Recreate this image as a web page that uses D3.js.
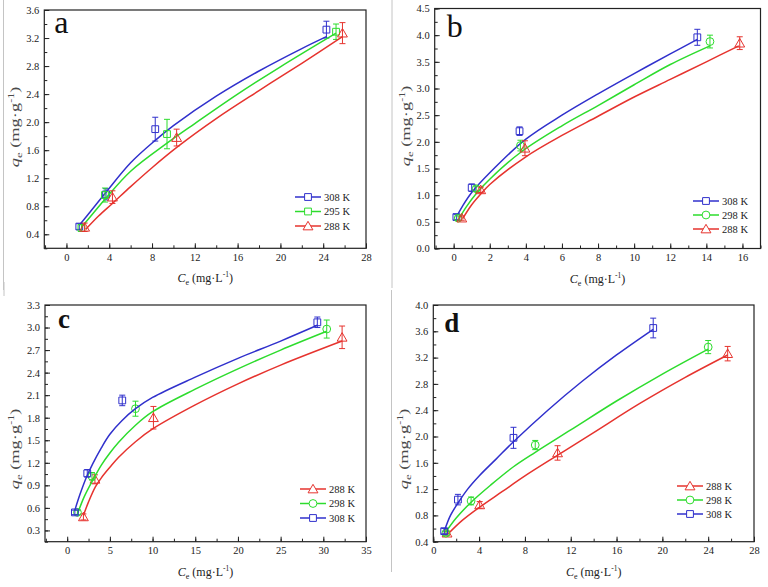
<!DOCTYPE html>
<html lang="en">
<head>
  <meta charset="UTF-8">
  <title>Adsorption isotherms</title>
  <style>
    * { margin: 0; }
    body { background: #fff; }
    svg { display: block; }
    text { font-family: "Liberation Serif", "Times New Roman", "DejaVu Serif", serif; fill: #222; }
    .tick-label { font-size: 10.5px; }
    .axis-title { font-size: 12px; }
    .legend text { font-size: 10.5px; }
  </style>
</head>
<body>
  <div id="chart"></div>
  <script src="https://cdnjs.cloudflare.com/ajax/libs/d3/7.8.5/d3.min.js"></script>
  <script>
    // ---- panel a ----
    const aXTicks = [0, 4, 8, 12, 16, 20, 24, 28];
    const aYTicks = [0.4, 0.8, 1.2, 1.6, 2.0, 2.4, 2.8, 3.2, 3.6];
    const a308Ce = [1.2, 3.7, 8.3, 24.3];
    const a308Qe = [0.51, 0.97, 1.90, 3.32];
    const a308Err = [0.04, 0.08, 0.17, 0.12];
    const a308Fit = [[1.2, 0.53], [2, 0.68], [3.7, 1.0], [6, 1.42], [8.3, 1.74], [10, 1.95], [14, 2.37], [18, 2.73], [22, 3.05], [24.3, 3.22]];
    const a295Ce = [1.4, 3.6, 9.4, 25.2];
    const a295Qe = [0.49, 0.96, 1.83, 3.29];
    const a295Err = [0.05, 0.10, 0.21, 0.11];
    const a295Fit = [[1.4, 0.50], [2.5, 0.70], [3.6, 0.90], [6, 1.30], [9.4, 1.70], [12, 1.98], [16, 2.40], [20, 2.79], [25.2, 3.27]];
    const a288Ce = [1.7, 4.3, 10.3, 25.8];
    const a288Qe = [0.50, 0.93, 1.78, 3.27];
    const a288Err = [0.06, 0.09, 0.12, 0.15];
    const a288Fit = [[1.8, 0.47], [3, 0.66], [4.3, 0.84], [6, 1.08], [8, 1.35], [10.4, 1.65], [14, 2.05], [18, 2.45], [22, 2.84], [25.8, 3.22]];

    // ---- panel b ----
    const bXTicks = [0, 2, 4, 6, 8, 10, 12, 14, 16];
    const bYTicks = [0.0, 0.5, 1.0, 1.5, 2.0, 2.5, 3.0, 3.5, 4.0, 4.5];
    const b308Ce = [0.15, 1.0, 3.65, 13.5];
    const b308Qe = [0.59, 1.14, 2.20, 3.96];
    const b308Err = [0.05, 0.07, 0.08, 0.15];
    const b308Fit = [[0.2, 0.62], [0.5, 0.80], [1, 1.05], [2, 1.42], [4, 2.05], [6, 2.50], [8, 2.90], [10, 3.28], [12, 3.65], [13.5, 3.92]];
    const b298Ce = [0.25, 1.25, 3.7, 14.2];
    const b298Qe = [0.57, 1.12, 1.93, 3.88];
    const b298Err = [0.04, 0.05, 0.10, 0.12];
    const b298Fit = [[0.3, 0.56], [0.7, 0.78], [1.3, 1.05], [2, 1.30], [3.7, 1.80], [6, 2.30], [8, 2.68], [10, 3.07], [12, 3.45], [14.2, 3.80]];
    const b288Ce = [0.45, 1.5, 3.95, 15.85];
    const b288Qe = [0.57, 1.10, 1.88, 3.85];
    const b288Err = [0.04, 0.05, 0.14, 0.12];
    const b288Fit = [[0.5, 0.56], [1, 0.82], [1.5, 1.02], [2, 1.20], [4, 1.72], [6, 2.12], [8, 2.48], [10, 2.84], [12, 3.17], [14, 3.50], [15.8, 3.80]];

    // ---- panel c ----
    const cXTicks = [0, 5, 10, 15, 20, 25, 30, 35];
    const cYTicks = [0.3, 0.6, 0.9, 1.2, 1.5, 1.8, 2.1, 2.4, 2.7, 3.0, 3.3];
    const c288Ce = [1.9, 3.25, 10.1, 32.2];
    const c288Qe = [0.48, 0.98, 1.80, 2.87];
    const c288Err = [0.04, 0.06, 0.15, 0.15];
    const c288Fit = [[1.9, 0.50], [2.5, 0.68], [3.3, 0.88], [4, 1.00], [5, 1.14], [6, 1.27], [8, 1.48], [10, 1.65], [15, 1.97], [20, 2.25], [25, 2.50], [32.2, 2.82]];
    const c298Ce = [1.2, 2.9, 8.0, 30.4];
    const c298Qe = [0.54, 1.02, 1.92, 2.98];
    const c298Err = [0.03, 0.05, 0.10, 0.12];
    const c298Fit = [[1.2, 0.52], [2, 0.75], [3, 0.97], [4, 1.17], [5, 1.33], [6, 1.47], [8, 1.70], [10, 1.88], [15, 2.18], [20, 2.45], [25, 2.70], [30.4, 2.95]];
    const c308Ce = [0.9, 2.35, 6.45, 29.3];
    const c308Qe = [0.54, 1.06, 2.03, 3.07];
    const c308Err = [0.03, 0.05, 0.07, 0.07];
    const c308Fit = [[0.9, 0.57], [1.5, 0.78], [2.3, 1.02], [3, 1.19], [4, 1.40], [5, 1.58], [6.4, 1.76], [8, 1.92], [10, 2.07], [15, 2.34], [20, 2.59], [25, 2.82], [29.3, 3.03]];

    // ---- panel d ----
    const dXTicks = [0, 4, 8, 12, 16, 20, 24, 28];
    const dYTicks = [0.4, 0.8, 1.2, 1.6, 2.0, 2.4, 2.8, 3.2, 3.6, 4.0];
    const d288Ce = [1.2, 4.05, 10.85, 25.7];
    const d288Qe = [0.53, 0.96, 1.75, 3.26];
    const d288Err = [0.03, 0.05, 0.11, 0.11];
    const d288Fit = [[1.3, 0.52], [2.5, 0.72], [4, 0.92], [6, 1.16], [8, 1.40], [10.9, 1.72], [14, 2.06], [18, 2.50], [22, 2.90], [25.7, 3.24]];
    const d298Ce = [1.1, 3.3, 8.9, 24.0];
    const d298Qe = [0.53, 1.02, 1.87, 3.36];
    const d298Err = [0.03, 0.06, 0.07, 0.10];
    const d298Fit = [[1.1, 0.55], [2, 0.76], [3.3, 1.00], [5, 1.26], [7, 1.54], [8.9, 1.76], [12, 2.10], [16, 2.54], [20, 2.95], [24, 3.33]];
    const d308Ce = [0.95, 2.15, 7.0, 19.2];
    const d308Qe = [0.56, 1.04, 1.98, 3.65];
    const d308Err = [0.04, 0.08, 0.16, 0.15];
    const d308Fit = [[1.0, 0.58], [1.5, 0.80], [2.2, 1.00], [3, 1.20], [4, 1.40], [5.5, 1.66], [7, 1.92], [10, 2.40], [13, 2.84], [16, 3.24], [19.2, 3.63]];

    const BLUE = '#3030cc', GREEN = '#2ddc2d', RED = '#e6332e';

    const series = (name, color, marker, ce, qe, err, fit) =>
      ({ name, color, marker, pts: ce.map((c, i) => ({ x: c, y: qe[i], e: err[i] })), fit });

    const panels = [
      {
        label: 'a', bold: false, letter: [10, 23, 32], box: [44.3, 366, 10, 248.3], xDom: [-2.07, 28], yDom: [0.2, 3.6],
        xTicks: aXTicks, yTicks: aYTicks, xMinor: 2, yMinor: 0.2,
        legend: { x: 295, y: 197, dy: 14.5 }, ylab: [15, 127],
        series: [
          series('308 K', BLUE, 'square', a308Ce, a308Qe, a308Err, a308Fit),
          series('295 K', GREEN, 'square', a295Ce, a295Qe, a295Err, a295Fit),
          series('288 K', RED, 'triangle', a288Ce, a288Qe, a288Err, a288Fit)
        ]
      },
      {
        label: 'b', bold: false, letter: [12, 28, 32], box: [434.7, 760.5, 8.5, 248.5], xDom: [-1.05, 17], yDom: [0, 4.5],
        xTicks: bXTicks, yTicks: bYTicks, xMinor: 1, yMinor: 0.25,
        legend: { x: 693, y: 201, dy: 14 }, ylab: [406, 126],
        series: [
          series('308 K', BLUE, 'square', b308Ce, b308Qe, b308Err, b308Fit),
          series('298 K', GREEN, 'circle', b298Ce, b298Qe, b298Err, b298Fit),
          series('288 K', RED, 'triangle', b288Ce, b288Qe, b288Err, b288Fit)
        ]
      },
      {
        label: 'c', bold: true, letter: [13, 22.5, 27], box: [45, 366, 305, 541.7], xDom: [-2.6, 35], yDom: [0.15, 3.3],
        xTicks: cXTicks, yTicks: cYTicks, xMinor: 2.5, yMinor: 0.15,
        legend: { x: 300, y: 489, dy: 14.5 }, ylab: [15, 449],
        series: [
          series('288 K', RED, 'triangle', c288Ce, c288Qe, c288Err, c288Fit),
          series('298 K', GREEN, 'circle', c298Ce, c298Qe, c298Err, c298Fit),
          series('308 K', BLUE, 'square', c308Ce, c308Qe, c308Err, c308Fit)
        ]
      },
      {
        label: 'd', bold: true, letter: [11, 26.5, 27], box: [433.3, 754, 305, 541.7], xDom: [0, 28], yDom: [0.4, 4.0],
        xTicks: dXTicks, yTicks: dYTicks, xMinor: 2, yMinor: 0.2,
        legend: { x: 677, y: 486, dy: 14 }, ylab: [404, 449],
        series: [
          series('288 K', RED, 'triangle', d288Ce, d288Qe, d288Err, d288Fit),
          series('298 K', GREEN, 'circle', d298Ce, d298Qe, d298Err, d298Fit),
          series('308 K', BLUE, 'square', d308Ce, d308Qe, d308Err, d308Fit)
        ]
      }
    ];

    const svg = d3.select('#chart').append('svg')
      .attr('width', 768).attr('height', 587);
    svg.append('rect').attr('width', 768).attr('height', 587).attr('fill', '#fff');

    // thin grey seams left over from the figure montage
    [[3.5, 0, 290], [4, 282, 296], [392, 0, 288], [391.5, 290, 572]].forEach(s => {
      svg.append('line').attr('x1', s[0]).attr('x2', s[0]).attr('y1', s[1]).attr('y2', s[2])
        .attr('stroke', '#c4c4c4').attr('stroke-width', 1);
    });

    function markerPath(type) {
      if (type === 'triangle') return d3.symbol(d3.symbolTriangle, 42)();
      if (type === 'circle') return d3.symbol(d3.symbolCircle, 48)();
      return d3.symbol(d3.symbolSquare, 46)();
    }

    function drawPanel(p) {
      const [left, right, top, bottom] = p.box;
      const x = d3.scaleLinear().domain(p.xDom).range([left, right]);
      const y = d3.scaleLinear().domain(p.yDom).range([bottom, top]);
      const g = svg.append('g');

      // minor ticks
      const xm = d3.range(Math.ceil(p.xDom[0] / p.xMinor) * p.xMinor, p.xDom[1] + 1e-9, p.xMinor);
      const ym = d3.range(Math.ceil(p.yDom[0] / p.yMinor - 1e-9) * p.yMinor, p.yDom[1] + 1e-9, p.yMinor);

      const xAxis = g.append('g').attr('transform', `translate(0,${bottom})`)
        .call(d3.axisBottom(x).tickValues(xm).tickSize(-3).tickFormat(''));
      const yAxis = g.append('g').attr('transform', `translate(${left},0)`)
        .call(d3.axisLeft(y).tickValues(ym).tickSize(-3).tickFormat(''));

      const xMaj = g.append('g').attr('transform', `translate(0,${bottom})`)
        .call(d3.axisBottom(x).tickValues(p.xTicks).tickSize(-5).tickPadding(5).tickFormat(d3.format('d')));
      const yMaj = g.append('g').attr('transform', `translate(${left},0)`)
        .call(d3.axisLeft(y).tickValues(p.yTicks).tickSize(-5).tickPadding(5).tickFormat(d3.format('.1f')));
      [xAxis, yAxis, xMaj, yMaj].forEach(a => {
        a.attr('font-family', null).attr('font-size', null);
        a.select('.domain').remove();
        a.selectAll('line').attr('stroke', '#222');
        a.selectAll('text').attr('class', 'tick-label');
      });

      g.append('rect').attr('x', left).attr('y', top)
        .attr('width', right - left).attr('height', bottom - top)
        .attr('fill', 'none').attr('stroke', '#222').attr('stroke-width', 1.2);

      // panel letter
      g.append('text').attr('x', left + p.letter[0]).attr('y', top + p.letter[1])
        .attr('font-size', p.letter[2]).attr('font-weight', p.bold ? 'bold' : 'normal')
        .style('fill', '#111').text(p.label);

      // axis titles
      const cx = (left + right) / 2;
      const xt = g.append('text').attr('class', 'axis-title')
        .attr('x', cx).attr('y', bottom + 34).attr('text-anchor', 'middle');
      xt.append('tspan').attr('font-style', 'italic').text('C');
      xt.append('tspan').attr('font-size', 8).attr('dy', 3).text('e');
      xt.append('tspan').attr('dy', -3).text(' (mg·L');
      xt.append('tspan').attr('font-size', 7.5).attr('dy', -5).text('-1');
      xt.append('tspan').attr('dy', 5).text(')');

      // the y title is stretched along its length in the source figure
      const yt = g.append('text').attr('class', 'axis-title')
        .attr('transform', `translate(${p.ylab[0]},${p.ylab[1]}) rotate(-90) scale(1.6,1)`)
        .attr('text-anchor', 'middle').attr('dy', '0.35em')
        .style('font-size', '11.5px').style('fill', '#4a4a4a');
      yt.append('tspan').attr('font-style', 'italic').text('q');
      yt.append('tspan').attr('font-size', 8).attr('dy', 3).text('e');
      yt.append('tspan').attr('dy', -3).text(' (mg·g');
      yt.append('tspan').attr('font-size', 7.5).attr('dy', -5).text('-1');
      yt.append('tspan').attr('dy', 5).text(')');

      const line = d3.line().x(d => x(d[0])).y(d => y(d[1])).curve(d3.curveCatmullRom.alpha(0.5));

      p.series.forEach(s => {
        g.append('path').datum(s.fit).attr('d', line)
          .attr('fill', 'none').attr('stroke', s.color).attr('stroke-width', 1.5);

        const pts = g.append('g');
        // error bars
        pts.selectAll('line.eb').data(s.pts).join('line')
          .attr('x1', d => x(d.x)).attr('x2', d => x(d.x))
          .attr('y1', d => y(d.y - d.e)).attr('y2', d => y(d.y + d.e))
          .attr('stroke', s.color).attr('stroke-width', 1);
        [-1, 1].forEach(sgn => {
          pts.selectAll(null).data(s.pts).join('line')
            .attr('x1', d => x(d.x) - 3).attr('x2', d => x(d.x) + 3)
            .attr('y1', d => y(d.y + sgn * d.e)).attr('y2', d => y(d.y + sgn * d.e))
            .attr('stroke', s.color).attr('stroke-width', 1);
        });
        pts.selectAll('path').data(s.pts).join('path')
          .attr('d', markerPath(s.marker))
          .attr('transform', d => `translate(${x(d.x)},${y(d.y) + (s.marker === 'triangle' ? 1 : 0)})`)
          .attr('fill', 'none').attr('stroke', s.color).attr('stroke-width', 1);
      });

      // legend
      const lg = g.append('g').attr('class', 'legend');
      p.series.forEach((s, i) => {
        const ly = p.legend.y + i * p.legend.dy;
        lg.append('line').attr('x1', p.legend.x).attr('x2', p.legend.x + 26)
          .attr('y1', ly).attr('y2', ly).attr('stroke', s.color).attr('stroke-width', 1.5);
        lg.append('path').attr('d', markerPath(s.marker))
          .attr('transform', `translate(${p.legend.x + 13},${ly + (s.marker === 'triangle' ? 1 : 0)})`)
          .attr('fill', '#fff').attr('stroke', s.color).attr('stroke-width', 1);
        lg.append('text').attr('x', p.legend.x + 29).attr('y', ly).attr('dy', '0.35em').text(s.name);
      });
    }

    panels.forEach(drawPanel);
  </script>
</body>
</html>
